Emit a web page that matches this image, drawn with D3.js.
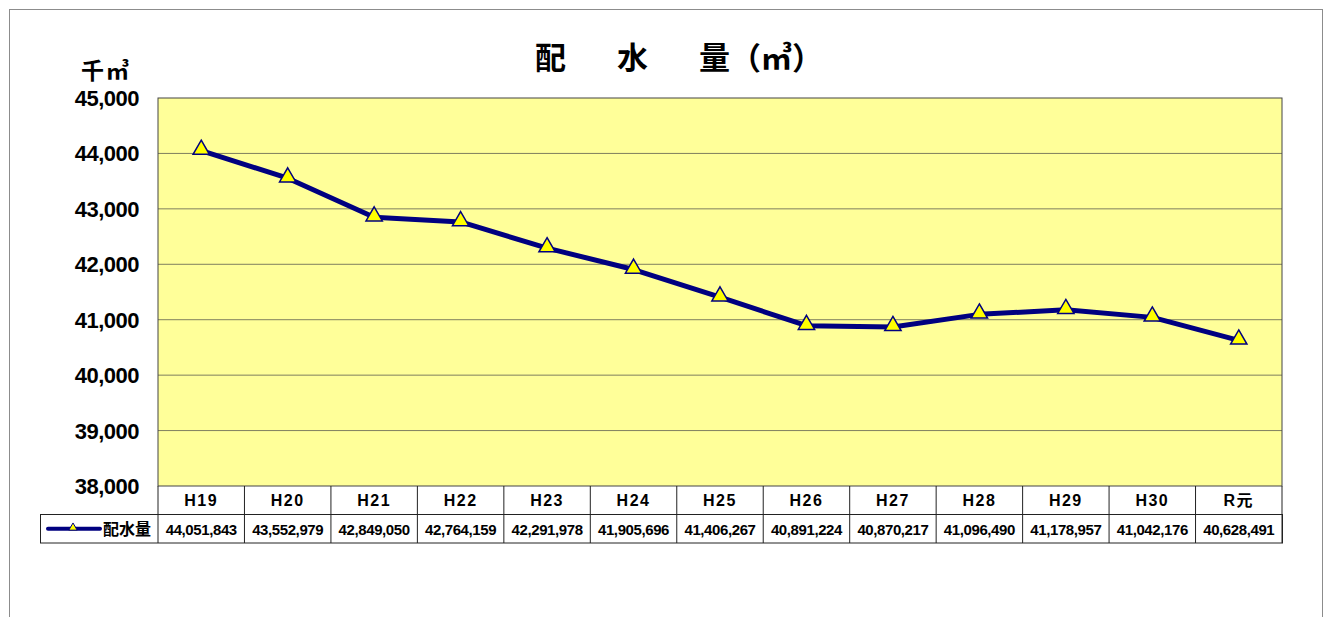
<!DOCTYPE html>
<html>
<head>
<meta charset="utf-8">
<script src="https://cdn.jsdelivr.net/npm/d3@7.9.0/dist/d3.min.js"></script>
<style>
  body { margin: 0; background: #fff; overflow: hidden; }
  svg { display: block; font-family: "Liberation Sans", Arial, "Noto Sans CJK JP", sans-serif; }
</style>
</head>
<body>
<svg id="chart" width="1329" height="617"></svg>
<script>
const years = ["H19", "H20", "H21", "H22", "H23", "H24", "H25", "H26", "H27", "H28", "H29", "H30", "R元"];
const volumes = [44051843, 43552979, 42849050, 42764159, 42291978, 41905696, 41406267, 40891224, 40870217, 41096490, 41178957, 41042176, 40628491];
const yTicks = [38000, 39000, 40000, 41000, 42000, 43000, 44000, 45000];
const seriesName = "配水量";
const titleParts = ["配", "水", "量（㎥）"];

const svg = d3.select("#chart");
const plotLeft = 158, plotRight = 1282, plotTop = 98, plotBottom = 486;
const rowH = 28.5;
const jp = "'Noto Sans CJK JP', sans-serif";

// outer frame
svg.append("rect")
  .attr("x", 9.5).attr("y", 9.5)
  .attr("width", 1313).attr("height", 620)
  .attr("fill", "#fff").attr("stroke", "#8c8c8c");

const x = d3.scaleBand().domain(years).range([plotLeft, plotRight]);
const y = d3.scaleLinear().domain([38000, 45000]).range([plotBottom, plotTop]);

// plot area
svg.append("rect")
  .attr("x", plotLeft).attr("y", plotTop)
  .attr("width", plotRight - plotLeft).attr("height", plotBottom - plotTop)
  .attr("fill", "#ffff99");

svg.selectAll("line.grid")
  .data(yTicks.slice(1, -1))
  .join("line")
  .attr("class", "grid")
  .attr("x1", plotLeft).attr("x2", plotRight)
  .attr("y1", d => y(d)).attr("y2", d => y(d))
  .attr("stroke", "#7f7f5f").attr("stroke-width", 1);

svg.append("rect")
  .attr("x", plotLeft).attr("y", plotTop)
  .attr("width", plotRight - plotLeft).attr("height", plotBottom - plotTop)
  .attr("fill", "none").attr("stroke", "#444").attr("stroke-width", 1);

// y labels
svg.selectAll("text.ytick")
  .data(yTicks)
  .join("text")
  .attr("class", "ytick")
  .attr("x", 139).attr("y", d => y(d) + 8)
  .attr("text-anchor", "end")
  .attr("font-size", 22).attr("font-weight", "bold")
  .attr("letter-spacing", -0.5)
  .attr("fill", "#000")
  .text(d => d3.format(",")(d));

// unit label
svg.append("text")
  .attr("x", 131).attr("y", 79)
  .attr("text-anchor", "end")
  .attr("font-size", 23).attr("font-weight", "bold")
  .attr("font-family", jp)
  .attr("letter-spacing", 2)
  .text("千㎥");

// title
svg.selectAll("text.title")
  .data(titleParts)
  .join("text")
  .attr("class", "title")
  .attr("x", (d, i) => 535 + i * 82)
  .attr("y", 69)
  .attr("font-size", 31).attr("font-weight", "bold")
  .attr("font-family", jp)
  .text(d => d);

// data table
const tableTop = plotBottom;
svg.append("rect")
  .attr("x", 40.5).attr("y", tableTop + rowH)
  .attr("width", plotRight - 40).attr("height", rowH)
  .attr("fill", "none").attr("stroke", "#222");

svg.selectAll("line.col")
  .data(years.map((d, i) => i).concat([years.length]))
  .join("line")
  .attr("class", "col")
  .attr("x1", i => i < years.length ? x(years[i]) : plotRight)
  .attr("x2", i => i < years.length ? x(years[i]) : plotRight)
  .attr("y1", tableTop).attr("y2", tableTop + rowH * 2)
  .attr("stroke", "#222");

svg.selectAll("text.cat")
  .data(years)
  .join("text")
  .attr("class", "cat")
  .attr("x", d => x(d) + x.bandwidth() / 2)
  .attr("y", tableTop + 20)
  .attr("text-anchor", "middle")
  .attr("font-size", 16).attr("font-weight", "bold")
  .attr("letter-spacing", 1.5)
  .text(d => d);

svg.selectAll("text.val")
  .data(volumes)
  .join("text")
  .attr("class", "val")
  .attr("x", (d, i) => x(years[i]) + x.bandwidth() / 2)
  .attr("y", tableTop + rowH + 20)
  .attr("text-anchor", "middle")
  .attr("font-size", 15).attr("font-weight", "bold")
  .attr("letter-spacing", -0.4)
  .text(d => d3.format(",")(d));

// legend key in table
const triangle = d3.symbol().type(d3.symbolTriangle);
const ly = tableTop + rowH * 1.5;
svg.append("line")
  .attr("x1", 48).attr("x2", 100)
  .attr("y1", ly).attr("y2", ly)
  .attr("stroke", "#000080").attr("stroke-width", 4).attr("stroke-linecap", "round");
svg.append("path")
  .attr("d", triangle.size(30)())
  .attr("transform", `translate(73,${ly - 1})`)
  .attr("fill", "#ffff00").attr("stroke", "#000080").attr("stroke-width", 1);
svg.append("text")
  .attr("x", 103).attr("y", ly + 6)
  .attr("font-size", 16).attr("font-weight", "bold")
  .attr("font-family", jp)
  .text(seriesName);

// line
const pts = volumes.map((v, i) => [x(years[i]) + x.bandwidth() / 2, y(v / 1000)]);
svg.append("path")
  .attr("d", d3.line()(pts))
  .attr("fill", "none")
  .attr("stroke", "#000080").attr("stroke-width", 5)
  .attr("stroke-linejoin", "round");

svg.selectAll("path.marker")
  .data(pts)
  .join("path")
  .attr("class", "marker")
  .attr("d", triangle.size(115)())
  .attr("transform", d => `translate(${d[0]},${d[1] - 1})`)
  .attr("fill", "#ffff00").attr("stroke", "#000080").attr("stroke-width", 1.5);
</script>
</body>
</html>
